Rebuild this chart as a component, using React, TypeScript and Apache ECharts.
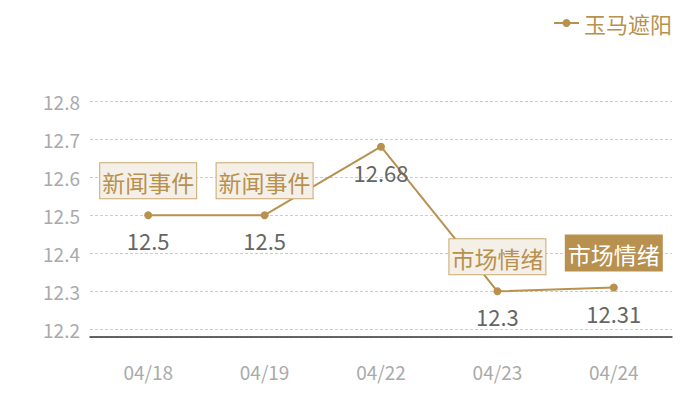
import * as React from "react";
import * as echarts from "echarts";

const GOLD = "#b8914f";
const FONT = "'Noto Sans CJK SC', 'Noto Sans', sans-serif";

const dates = ["04/18", "04/19", "04/22", "04/23", "04/24"];
const prices = [12.5, 12.5, 12.68, 12.3, 12.31];
const seriesName = "玉马遮阳";

// 事件标注：日期、文字、是否高亮
const eventDates = ["04/18", "04/19", "04/23", "04/24"];
const eventTexts = ["新闻事件", "新闻事件", "市场情绪", "市场情绪"];
const eventActive = [false, false, false, true];

export default function App() {
  const ref = React.useRef<HTMLDivElement | null>(null);

  React.useEffect(() => {
    if (!ref.current) return;
    const chart = echarts.init(ref.current, undefined, { renderer: "svg" });

    const marks = eventDates.map((d, i) => {
      const idx = dates.indexOf(d);
      const on = eventActive[i];
      return {
        coord: [d, prices[idx]],
        value: eventTexts[i],
        symbol: "circle",
        symbolSize: 0,
        label: {
          show: true,
          position: "top",
          distance: 17,
          formatter: eventTexts[i],
          fontSize: 23,
          fontFamily: FONT,
          lineHeight: 27,
          color: on ? "#ffffff" : GOLD,
          backgroundColor: on ? GOLD : "#f4efe7",
          borderColor: on ? GOLD : "#caa86e",
          borderWidth: 1,
          padding: [5, 2, 3, 2],
        },
      };
    });

    chart.setOption({
      animation: false,
      textStyle: { fontFamily: FONT },
      legend: {
        top: 4,
        right: 20,
        padding: 0,
        itemWidth: 25,
        itemHeight: 10,
        itemGap: 8,
        textStyle: { color: GOLD, fontSize: 22, fontFamily: FONT },
        data: [seriesName],
      },
      grid: { left: 82, right: 20, top: 93, bottom: 55 },
      xAxis: {
        type: "category",
        data: dates,
        axisLine: { lineStyle: { color: "#333333", width: 1.5 } },
        axisTick: { show: false },
        axisLabel: { color: "#aaaaaa", fontSize: 19, margin: 25, fontFamily: FONT },
        splitLine: { show: false },
      },
      yAxis: {
        type: "value",
        min: 12.18,
        max: 12.8,
        axisLine: { show: false },
        axisTick: { show: false },
        axisLabel: {
          color: "#aaaaaa",
          fontSize: 19,
          margin: 10,
          fontFamily: FONT,
          showMinLabel: false,
        },
        splitLine: { lineStyle: { color: "#cccccc", type: [3, 2], width: 1 } },
      },
      series: [
        {
          name: seriesName,
          type: "line",
          data: prices,
          symbol: "circle",
          symbolSize: 8,
          itemStyle: { color: GOLD },
          lineStyle: { color: GOLD, width: 2 },
          label: {
            show: true,
            position: "bottom",
            distance: 10,
            color: "#666666",
            fontSize: 22,
            fontFamily: FONT,
          },
          markPoint: { data: marks },
        },
      ],
    });

    return () => chart.dispose();
  }, []);

  return <div ref={ref} style={{ width: 684, height: 384 }} />;
}
